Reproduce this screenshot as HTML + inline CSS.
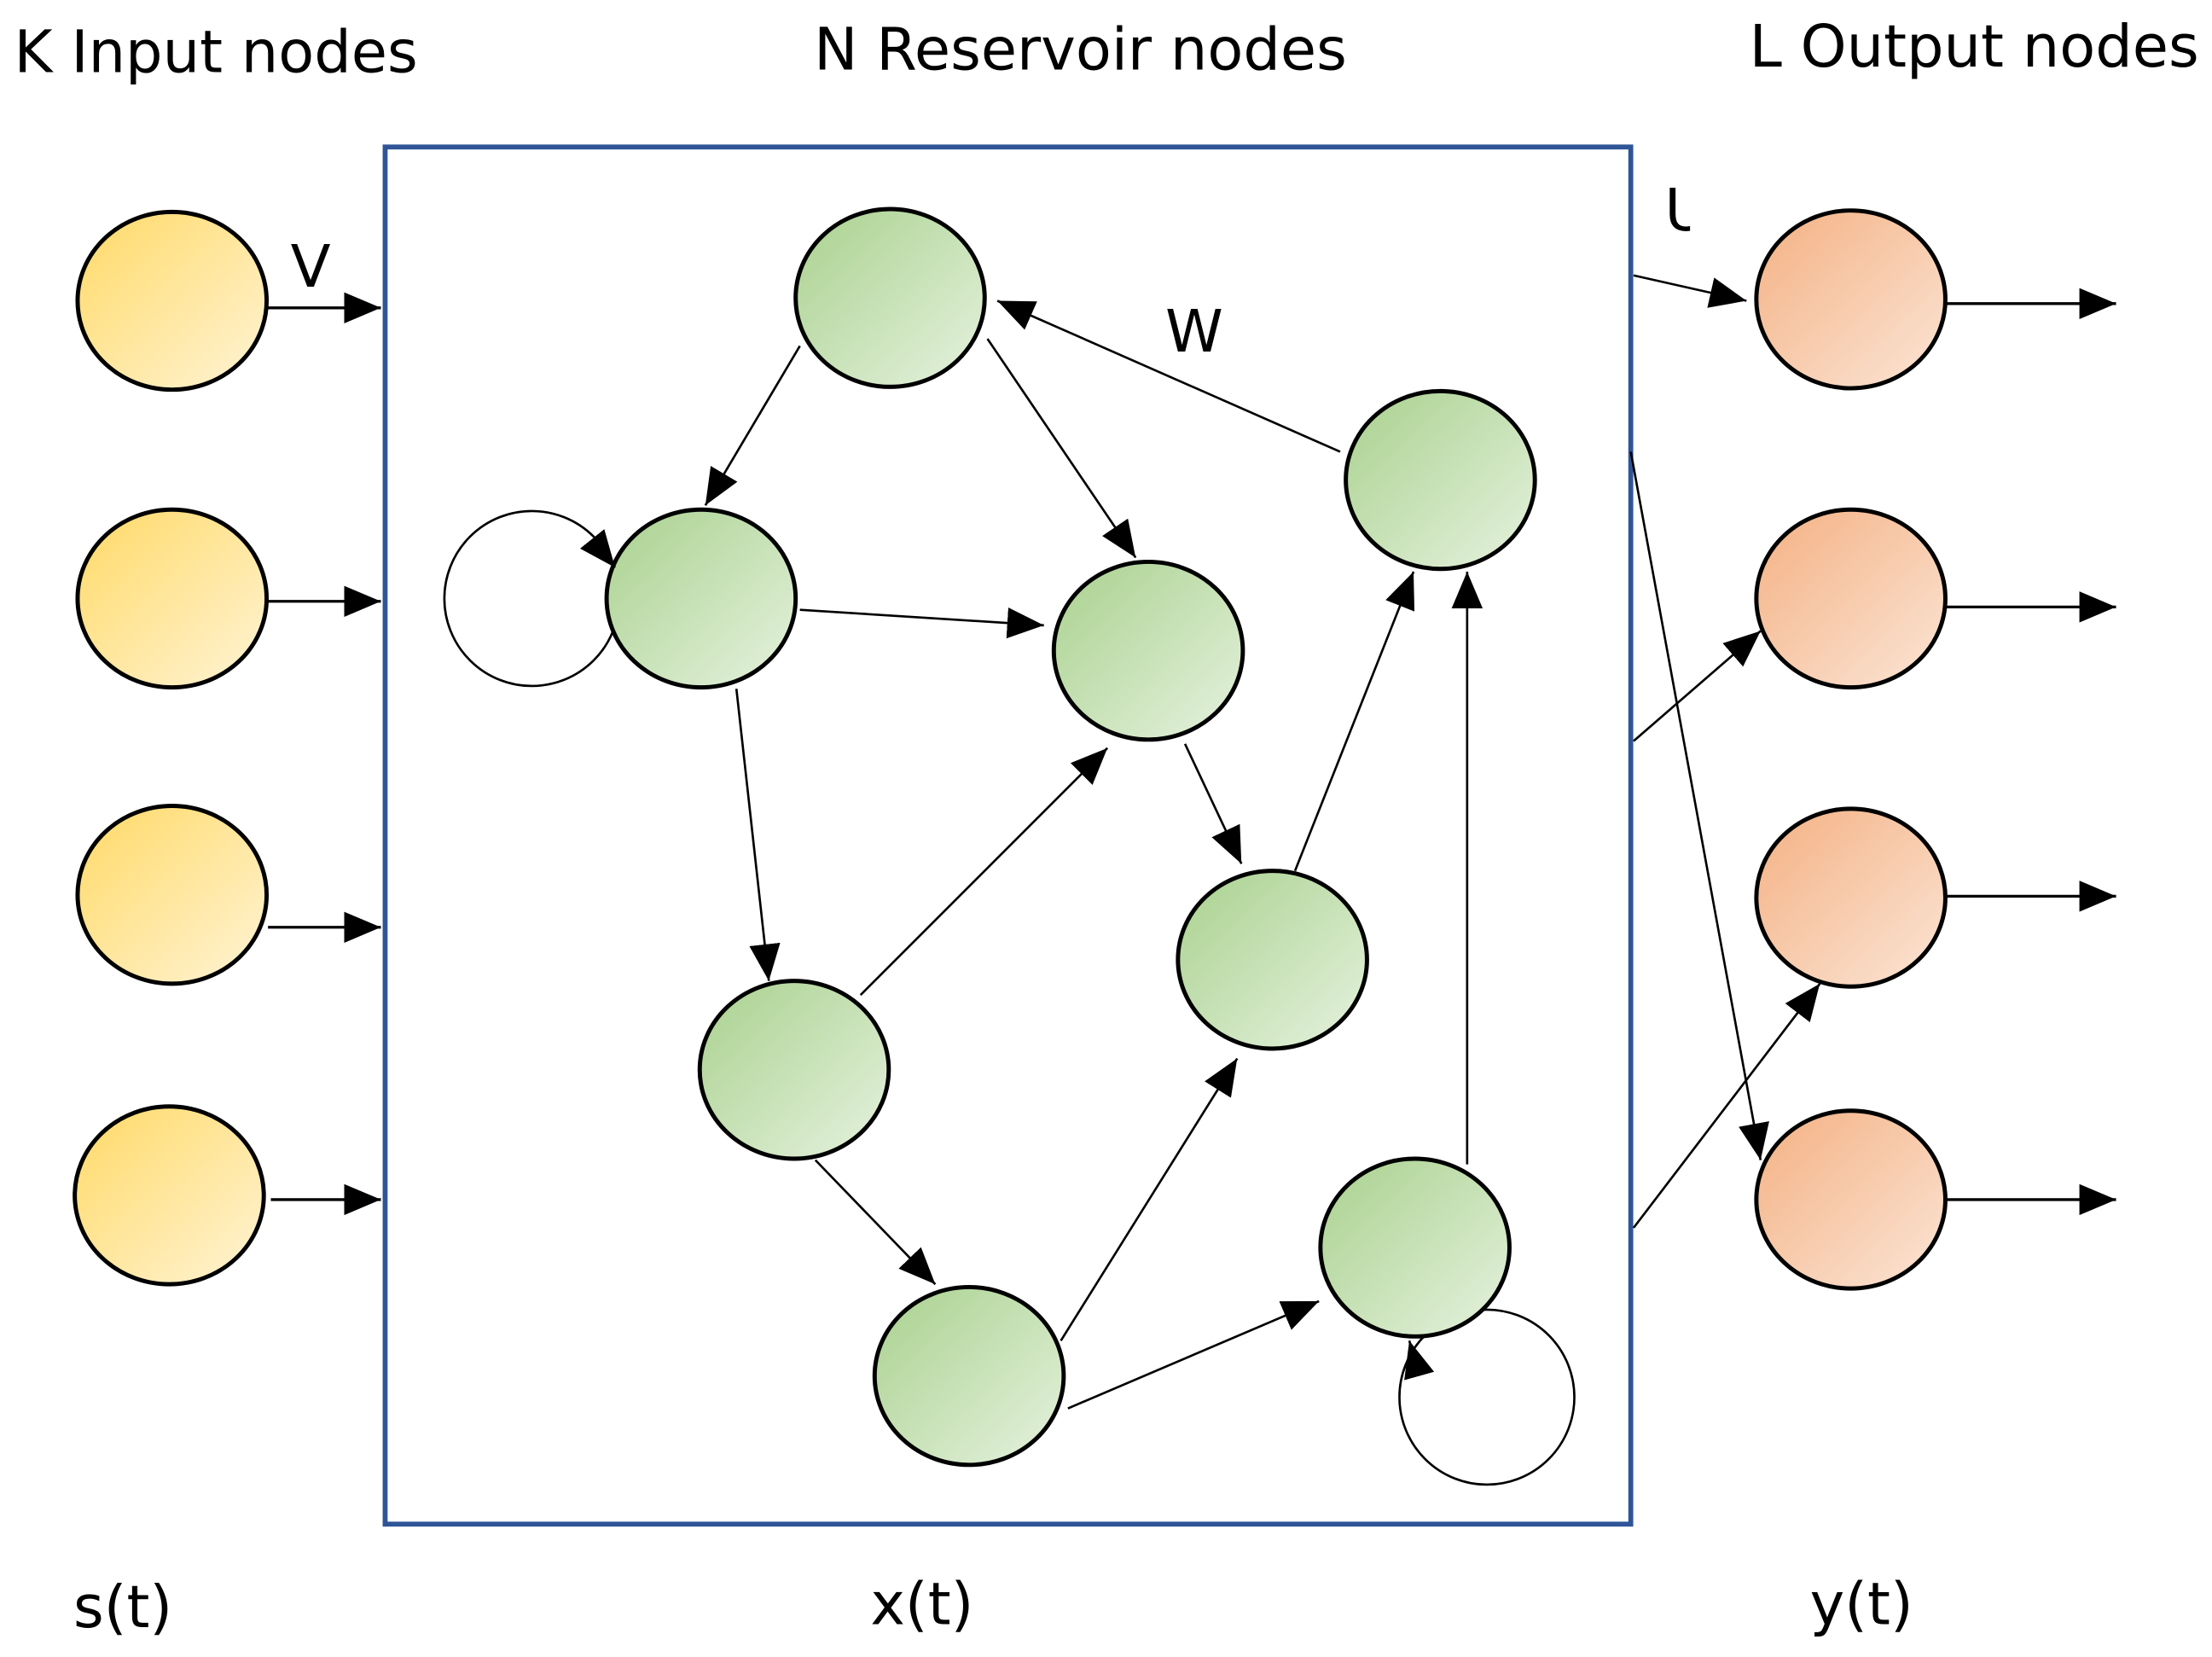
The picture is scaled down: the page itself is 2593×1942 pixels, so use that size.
<!DOCTYPE html>
<html><head><meta charset="utf-8"><style>html,body{margin:0;padding:0;background:#fff}svg{display:block}</style></head><body>
<svg width="2593" height="1942" viewBox="0 0 1568 1174" xmlns="http://www.w3.org/2000/svg">
<defs>
<linearGradient id="gy" x1="0" y1="0" x2="1" y2="1"><stop offset="0" stop-color="#FFD966"/><stop offset="1" stop-color="#FFF4D6"/></linearGradient>
<linearGradient id="gg" x1="0" y1="0" x2="1" y2="1"><stop offset="0" stop-color="#A9D18E"/><stop offset="1" stop-color="#E6F2DF"/></linearGradient>
<linearGradient id="go" x1="0" y1="0" x2="1" y2="1"><stop offset="0" stop-color="#F4B183"/><stop offset="1" stop-color="#FBE5D6"/></linearGradient>
<marker id="b" markerWidth="26" markerHeight="22" refX="26" refY="11" orient="auto" markerUnits="userSpaceOnUse" viewBox="0 0 26 22"><path d="M0,0 L26,11 L0,22z" fill="#000"/></marker>
</defs>
<g font-family="'DejaVu Sans','Liberation Sans',sans-serif" font-size="41.5" fill="#000">
<text x="10" y="51">K Input nodes</text>
<text x="577" y="49">N Reservoir nodes</text>
<text x="1240" y="47">L Output nodes</text>
<text x="52" y="1153">s(t)</text>
<text x="617" y="1151">x(t)</text>
<text x="1283" y="1151">y(t)</text>
<text x="206" y="203">V</text>
<text x="826" y="249">W</text>
<text x="1180" y="163">U</text>
</g>
<rect x="1198" y="115" width="32" height="55" fill="#fff"/>
<rect x="273" y="104" width="883" height="976" fill="none" stroke="#2F5597" stroke-width="3.5"/>
<g stroke="#000" stroke-width="1.6" fill="none">
<circle cx="377" cy="424" r="62"/>
<circle cx="1054" cy="990" r="62"/>
</g>
<g stroke="#000" stroke-width="3" fill="url(#gy)">
<ellipse cx="122" cy="213" rx="67" ry="63"/>
<ellipse cx="122" cy="424" rx="67" ry="63"/>
<ellipse cx="122" cy="634" rx="67" ry="63"/>
<ellipse cx="120" cy="847" rx="67" ry="63"/>
</g>
<g stroke="#000" stroke-width="3" fill="url(#gg)">
<ellipse cx="631" cy="211" rx="67" ry="63"/>
<ellipse cx="497" cy="424" rx="67" ry="63"/>
<ellipse cx="814" cy="461" rx="67" ry="63"/>
<ellipse cx="1021" cy="340" rx="67" ry="63"/>
<ellipse cx="563" cy="758" rx="67" ry="63"/>
<ellipse cx="902" cy="680" rx="67" ry="63"/>
<ellipse cx="687" cy="975" rx="67" ry="63"/>
<ellipse cx="1003" cy="884" rx="67" ry="63"/>
</g>
<g stroke="#000" stroke-width="3" fill="url(#go)">
<ellipse cx="1312" cy="212" rx="67" ry="63"/>
<ellipse cx="1312" cy="424" rx="67" ry="63"/>
<ellipse cx="1312" cy="636" rx="67" ry="63"/>
<ellipse cx="1312" cy="850" rx="67" ry="63"/>
</g>
<g stroke="#000" stroke-width="2" marker-end="url(#b)">
<line x1="190" y1="218" x2="270" y2="218"/>
<line x1="190" y1="426" x2="270" y2="426"/>
<line x1="190" y1="657" x2="270" y2="657"/>
<line x1="192" y1="850" x2="270" y2="850"/>
<line x1="1380" y1="215" x2="1500" y2="215"/>
<line x1="1380" y1="430" x2="1500" y2="430"/>
<line x1="1380" y1="635" x2="1500" y2="635"/>
<line x1="1380" y1="850" x2="1500" y2="850"/>
</g>
<g stroke="#000" stroke-width="1.6" marker-end="url(#b)">
<line x1="567" y1="245" x2="500" y2="358"/>
<line x1="700" y1="240" x2="805" y2="395"/>
<line x1="950" y1="320" x2="707" y2="213"/>
<line x1="567" y1="432" x2="740" y2="443"/>
<line x1="522" y1="488" x2="545" y2="695"/>
<line x1="610" y1="705" x2="785" y2="530"/>
<line x1="840" y1="527" x2="880" y2="612"/>
<line x1="918" y1="617" x2="1002" y2="405"/>
<line x1="752" y1="950" x2="877" y2="750"/>
<line x1="578" y1="822" x2="663" y2="910"/>
<line x1="757" y1="998" x2="935" y2="922"/>
<line x1="1040" y1="825" x2="1040" y2="405"/>
<line x1="420" y1="382" x2="436" y2="402"/>
<line x1="1006" y1="975" x2="999" y2="950"/>
<line x1="1158" y1="195" x2="1238" y2="213"/>
<line x1="1156" y1="320" x2="1248" y2="822"/>
<line x1="1158" y1="525" x2="1248" y2="447"/>
<line x1="1158" y1="870" x2="1290" y2="697"/>
</g>
</svg>
</body></html>
